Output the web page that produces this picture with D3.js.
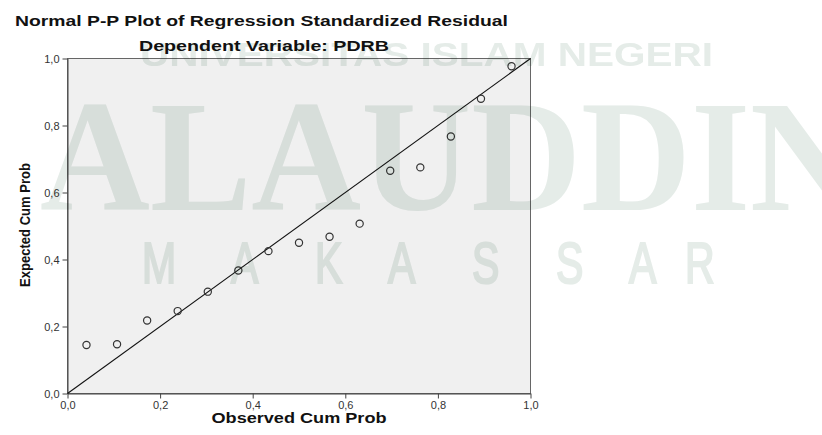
<!DOCTYPE html>
<html><head><meta charset="utf-8">
<script src="https://cdn.jsdelivr.net/npm/d3@7"></script>
<style>body{margin:0;background:#fff}svg{display:block}</style>
</head><body>
<svg id="chart" width="822" height="435"></svg>
<script>
const observedCumProb = [0.041,0.107,0.172,0.238,0.303,0.369,0.434,0.500,0.566,0.631,0.697,0.762,0.828,0.893,0.959];
const expectedCumProb = [0.145,0.147,0.218,0.246,0.304,0.367,0.425,0.450,0.468,0.507,0.665,0.675,0.767,0.880,0.977];
const tickValues = [0,0.2,0.4,0.6,0.8,1.0];
const titleText = "Normal P-P Plot of Regression Standardized Residual";
const subtitleText = "Dependent Variable: PDRB";
const xLabel = "Observed Cum Prob";
const yLabel = "Expected Cum Prob";
const watermarkTop = "UNIVERSITAS ISLAM NEGERI";
const watermarkMid = "ALAUDDIN";
const watermarkBottom = ["M","A","K","A","S","S","A","R"];

const svg = d3.select("#chart");
const F = "'Liberation Sans', Arial, sans-serif";
const x = d3.scaleLinear().domain([0,1]).range([67.5,530.5]);
const y = d3.scaleLinear().domain([0,1]).range([393.5,58.5]);
const fmt = d => d3.format(".1f")(d).replace(".", ",");

svg.append("rect").attr("x",x(0)).attr("y",y(1)).attr("width",x(1)-x(0)).attr("height",y(0)-y(1))
  .attr("fill","#f0f0f0").attr("stroke","#666").attr("stroke-width",1);

const gx = svg.append("g").attr("transform",`translate(0,${y(0)})`)
  .call(d3.axisBottom(x).tickValues(tickValues).tickFormat(fmt).tickSize(5).tickSizeOuter(0).tickPadding(3));
const gy = svg.append("g").attr("transform",`translate(${x(0)},0)`)
  .call(d3.axisLeft(y).tickValues(tickValues).tickFormat(fmt).tickSize(5).tickSizeOuter(0).tickPadding(3));
[gx,gy].forEach(g=>{
  g.select(".domain").attr("stroke","#444");
  g.selectAll(".tick line").attr("stroke","#444");
  g.selectAll(".tick text").attr("font-family",F).attr("font-size",11).attr("fill","#333");
});

svg.append("line").attr("x1",x(0)).attr("y1",y(0)).attr("x2",x(1)).attr("y2",y(1))
  .attr("stroke","#111").attr("stroke-width",1.1);

svg.append("g").selectAll("circle").data(observedCumProb).join("circle")
  .attr("cx",d=>x(d)).attr("cy",(d,i)=>y(expectedCumProb[i])).attr("r",3.6)
  .attr("fill","none").attr("stroke","#333").attr("stroke-width",1.2);

svg.append("text").attr("x",15).attr("y",26).attr("font-family",F).attr("font-weight","bold")
  .attr("font-size",15).attr("fill","#111").attr("textLength",493).attr("lengthAdjust","spacingAndGlyphs").text(titleText);
svg.append("text").attr("x",139).attr("y",51).attr("font-family",F).attr("font-weight","bold")
  .attr("font-size",15).attr("fill","#111").attr("textLength",250).attr("lengthAdjust","spacingAndGlyphs").text(subtitleText);
svg.append("text").attr("x",299).attr("y",423).attr("text-anchor","middle").attr("font-family",F).attr("font-weight","bold")
  .attr("font-size",14).attr("fill","#111").attr("textLength",175).attr("lengthAdjust","spacingAndGlyphs").text(xLabel);
svg.append("text").attr("transform","translate(30,225) rotate(-90)").attr("text-anchor","middle").attr("font-family",F).attr("font-weight","bold")
  .attr("font-size",14).attr("fill","#111").attr("textLength",124).attr("lengthAdjust","spacingAndGlyphs").text(yLabel);

// watermark overlay
const wm = svg.append("g").style("mix-blend-mode","multiply").attr("fill","#e5ece8").style("pointer-events","none");
wm.append("text").attr("x",140).attr("y",66).attr("font-family",F).attr("font-weight","bold")
  .attr("font-size",33).attr("textLength",573).attr("lengthAdjust","spacingAndGlyphs").text(watermarkTop);
wm.append("text").attr("x",40).attr("y",210).attr("font-family","'Liberation Serif', 'DejaVu Serif', serif").attr("font-weight","bold")
  .attr("font-size",158).attr("textLength",820).attr("lengthAdjust","spacingAndGlyphs").text(watermarkMid);
const mx = [142,231,315,388,472,556,629,685];
wm.selectAll("text.mk").data(watermarkBottom).join("text").attr("class","mk")
  .attr("transform",(d,i)=>`translate(${mx[i]},283) scale(0.72,1)`)
  .attr("font-family",F).attr("font-size",57).attr("stroke","#e5ece8").attr("stroke-width",2.2).text(d=>d);
</script>
</body></html>
